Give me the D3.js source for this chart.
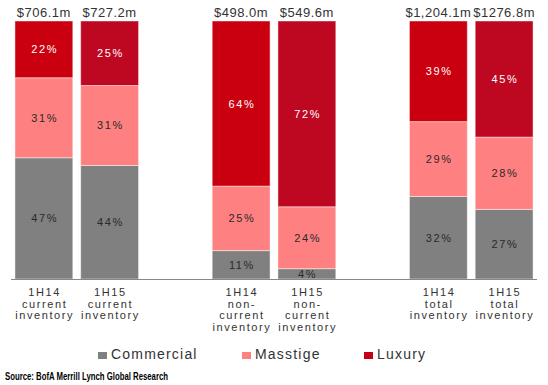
<!DOCTYPE html>
<html><head><meta charset="utf-8">
<script src="https://cdn.jsdelivr.net/npm/d3@7"></script>
<style>body{margin:0;background:#fff;}svg{display:block;}</style>
</head><body>
<script>
const categories = [
  ["1H14","current","inventory"],
  ["1H15","current","inventory"],
  ["1H14","non-","current","inventory"],
  ["1H15","non-","current","inventory"],
  ["1H14","total","inventory"],
  ["1H15","total","inventory"]
];
const slots = [0,1,3,4,6,7];
const totals = ["$706.1m","$727.2m","$498.0m","$549.6m","$1,204.1m","$1276.8m"];
const commercial = [47,44,11,4,32,27];
const masstige = [31,31,25,24,29,28];
const luxury = [22,25,64,72,39,45];
const seriesNames = ["Commercial","Masstige","Luxury"];
const colors = {Commercial:"#808080", Masstige:"#FF8080", Luxury14:"#CA0010", Luxury15:"#BE0822", LuxuryLegend:"#C40018"};

const W=548,H=385;
const svg=d3.select("body").append("svg").attr("width",W).attr("height",H);
const x=d3.scaleBand().domain(d3.range(8)).range([11,537]).paddingInner(0.12).paddingOuter(0.06);
const y=d3.scaleLinear().domain([0,100]).range([279,21]);
const font="'Liberation Sans', Arial, sans-serif";

const data = categories.map((c,i)=>({i, slot:slots[i], vals:[commercial[i],masstige[i],luxury[i]]}));
data.forEach(d=>{
  let acc=0;
  d.segs=d.vals.map((v,k)=>{const s={k,v,y0:acc,y1:acc+v};acc+=v;return s;});
});

const g=svg.append("g");
data.forEach(d=>{
  const bx=x(d.slot), bw=x.bandwidth();
  d.segs.forEach(s=>{
    const fill = s.k===0?colors.Commercial:s.k===1?colors.Masstige:(d.i%2===0?colors.Luxury14:colors.Luxury15);
    g.append("rect").attr("x",bx).attr("width",bw)
      .attr("y",y(s.y1)).attr("height",y(s.y0)-y(s.y1))
      .attr("fill",fill).attr("stroke","rgba(255,255,255,0.45)").attr("stroke-width",1);
    g.append("text").attr("x",bx+bw/2+0.8).attr("y",(y(s.y0)+y(s.y1))/2+4)
      .attr("text-anchor","middle").attr("font-family",font).attr("font-size",11)
      .attr("letter-spacing",1.6)
      .attr("fill",s.k===2?"#fff":"#2a2a2a").text(s.v+"%");
  });
  g.append("text").attr("x",bx+bw/2).attr("y",17).attr("text-anchor","middle")
    .attr("font-family",font).attr("font-size",13).attr("letter-spacing",0.5).attr("fill","#333")
    .text(totals[d.i]);
  const t=g.append("text").attr("text-anchor","middle").attr("font-family",font)
    .attr("font-size",11).attr("letter-spacing",1.6).attr("fill","#333");
  categories[d.i].forEach((line,j)=>{
    t.append("tspan").attr("x",bx+bw/2+0.8).attr("y",296+j*11.5).text(line);
  });
});

// baseline axis
svg.append("line").attr("x1",11).attr("x2",537).attr("y1",279.5).attr("y2",279.5)
  .attr("stroke","#888").attr("stroke-width",1);

// legend
const legendX=[98,242,364];
seriesNames.forEach((n,k)=>{
  const c = k===0?colors.Commercial:k===1?colors.Masstige:colors.LuxuryLegend;
  svg.append("rect").attr("x",legendX[k]).attr("y",352).attr("width",9).attr("height",7).attr("fill",c);
  svg.append("text").attr("x",legendX[k]+13).attr("y",359).attr("font-family",font)
    .attr("font-size",14).attr("letter-spacing",1.2).attr("fill","#333").text(n);
});

svg.append("text").attr("x",5).attr("y",380).attr("font-family",font).attr("font-size",10)
  .attr("font-weight","bold").attr("fill","#000").attr("textLength",163).attr("lengthAdjust","spacingAndGlyphs")
  .text("Source: BofA Merrill Lynch Global Research");
</script>
</body></html>
